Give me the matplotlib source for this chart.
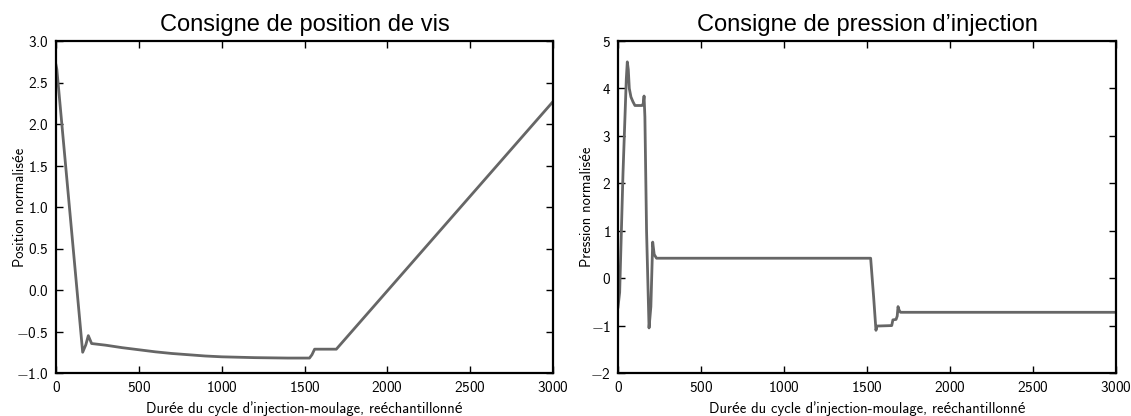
import numpy as np
import matplotlib
matplotlib.use('Agg')
from matplotlib import pyplot as plt

# points (sample index, normalised value)
pos_x = [0, 5, 161, 180, 195, 215, 300, 400, 500, 600, 700, 800, 900, 1000, 1200, 1400, 1530,
         1545, 1561, 1692, 3000]
pos_y = [2.71, 2.66, -0.75, -0.66, -0.55, -0.645, -0.665, -0.695, -0.72, -0.745, -0.765, -0.78, -0.795, -0.805,
         -0.815, -0.82, -0.82, -0.78, -0.713, -0.713, 2.27]

pres_x = [0, 10, 30, 50, 56, 62, 68, 78, 90, 102, 145, 152, 157, 162, 172, 187, 198, 209, 218, 232,
          1522, 1540, 1554, 1560, 1649, 1656, 1675, 1682, 1687, 1694, 1702, 3000]
pres_y = [-0.61, -0.3, 2.2, 4.2, 4.56, 4.4, 4.0, 3.82, 3.72, 3.64, 3.64, 3.68, 3.84, 3.4, 1.0, -1.05, -0.6, 0.76, 0.5, 0.42,
          0.42, -0.4, -1.1, -1.01, -1.0, -0.88, -0.87, -0.8, -0.6, -0.68, -0.72, -0.72]

xticks = [0, 500, 1000, 1500, 2000, 2500, 3000]
pos_yticks = [-1.0, -0.5, 0.0, 0.5, 1.0, 1.5, 2.0, 2.5, 3.0]
pres_yticks = [-2, -1, 0, 1, 2, 3, 4, 5]

plt.rcParams['mathtext.fontset'] = 'custom'
plt.rcParams['mathtext.rm'] = 'cmss10'
plt.rcParams['font.family'] = ['cmss10', 'Lato', 'DejaVu Sans']

fig = plt.figure(figsize=(11.31, 4.16), dpi=100)
ax1 = fig.add_axes([56 / 1131, 1 - 373 / 416, 497 / 1131, 332 / 416])
ax2 = fig.add_axes([618 / 1131, 1 - 373 / 416, 498 / 1131, 332 / 416])

def style(ax):
    for s in ax.spines.values():
        s.set_linewidth(1.6)
    ax.tick_params(direction='in', top=True, right=True, length=5, width=1, labelsize=11, pad=5)
    ax.set_xlim(0, 3000)
    ax.set_xticks(xticks)
    ax.xaxis.set_major_formatter(matplotlib.ticker.FormatStrFormatter('$%d$'))
    ax.set_xlabel('Durée du cycle d’injection-moulage, reéchantillonné', fontsize=10.5, labelpad=4.5)

ax1.plot(pos_x, pos_y, color='#666666', lw=2)
style(ax1)
ax1.set_ylim(-1.0, 3.0)
ax1.set_yticks(pos_yticks)
ax1.yaxis.set_major_formatter(matplotlib.ticker.FormatStrFormatter('$%.1f$'))
ax1.set_ylabel('Position normalisée', fontsize=10.5, labelpad=-7.5)
ax1.set_title('Consigne de position de vis', fontsize=17, family='Liberation Sans', pad=7)

ax2.plot(pres_x, pres_y, color='#666666', lw=2)
style(ax2)
ax2.set_ylim(-2, 5)
ax2.set_yticks(pres_yticks)
ax2.yaxis.set_major_formatter(matplotlib.ticker.FormatStrFormatter('$%d$'))
ax2.set_ylabel('Pression normalisée', fontsize=10.5, labelpad=-3)
ax2.set_title('Consigne de pression d’injection', fontsize=17, family='Liberation Sans', pad=7)

plt.savefig('out.png', dpi=100)
